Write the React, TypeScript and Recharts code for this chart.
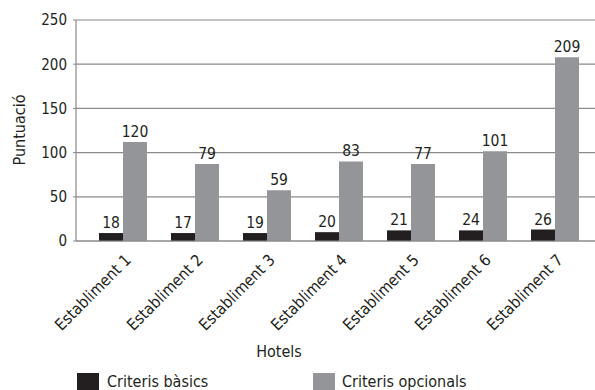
import React from 'react';
import { BarChart, Bar, XAxis, YAxis, CartesianGrid, LabelList, Legend } from 'recharts';

const categories = ['Establiment 1', 'Establiment 2', 'Establiment 3', 'Establiment 4', 'Establiment 5', 'Establiment 6', 'Establiment 7'];
// bar heights as drawn in the picture
const basicBars = [9, 9, 9, 10, 12, 12, 13];
const optionalBars = [112, 87, 57.5, 90, 87, 101.5, 208];
// values printed above the bars
const basicLabels = [18, 17, 19, 20, 21, 24, 26];
const optionalLabels = [120, 79, 59, 83, 77, 101, 209];
const yTicks = [0, 50, 100, 150, 200, 250];

const seriesNames = ['Criteris bàsics', 'Criteris opcionals'];
const BLACK = '#231f20';
const GRAY = '#939598';
const GRID = '#8a8a8a';
const FONT = '"DejaVu Sans Condensed", "DejaVu Sans", sans-serif';

const data = categories.map((c, i) => ({
  name: c,
  basic: basicBars[i],
  optional: optionalBars[i],
  basicLabel: basicLabels[i],
  optionalLabel: optionalLabels[i],
}));

const XTick = (props: any) => {
  const { x, y, payload } = props;
  return (
    <g transform={`translate(${x + 9},${y + 12})`}>
      <text x={0} y={0} textAnchor="end" transform="rotate(-45)" fill={BLACK} fontSize={16} fontFamily={FONT}>
        {payload.value}
      </text>
    </g>
  );
};

const LegendContent = () => (
  <div style={{ position: 'relative', width: 595, height: 20, fontFamily: FONT, fontSize: 16, color: BLACK }}>
    <div style={{ position: 'absolute', left: 77, top: 3, width: 22, height: 17, background: BLACK }} />
    <div style={{ position: 'absolute', left: 107, top: 2, lineHeight: '20px', whiteSpace: 'nowrap' }}>{seriesNames[0]}</div>
    <div style={{ position: 'absolute', left: 313, top: 3, width: 22, height: 17, background: GRAY }} />
    <div style={{ position: 'absolute', left: 342, top: 2, lineHeight: '20px', whiteSpace: 'nowrap' }}>{seriesNames[1]}</div>
  </div>
);

export default function App() {
  return (
    <div style={{ position: 'absolute', left: 0, top: 0, width: 595, height: 390, background: '#fff' }}>
      <BarChart
        width={595}
        height={390}
        data={data}
        margin={{ top: 20, right: 0, left: 0, bottom: 0 }}
        barGap={0}
        barSize={24}
      >
        <CartesianGrid horizontal vertical={false} stroke={GRID} strokeWidth={1.2} />
        <XAxis
          dataKey="name"
          height={149}
          interval={0}
          padding={{ left: 11, right: 4 }}
          axisLine={{ stroke: GRID, strokeWidth: 1.2 }}
          tickLine={false}
          tick={<XTick />}
          label={{
            content: () => (
              <text x={279} y={356.5} textAnchor="middle" fill={BLACK} fontSize={16} fontFamily={FONT}>Hotels</text>
            ),
          }}
        />
        <YAxis
          width={76}
          domain={[0, 250]}
          ticks={yTicks}
          interval={0}
          axisLine={{ stroke: GRID, strokeWidth: 1.2 }}
          tickLine={{ stroke: GRID }}
          tickSize={3}
          tickMargin={6}
          tick={{ fill: BLACK, fontSize: 15, fontFamily: FONT }}
          label={{
            content: () => (
              <text transform="translate(25,130) rotate(-90)" textAnchor="middle" fill={BLACK} fontSize={16} fontFamily={FONT}>Puntuació</text>
            ),
          }}
        />
        <Legend layout="horizontal" verticalAlign="middle" align="center" content={<LegendContent />} wrapperStyle={{ position: 'absolute', top: 370, left: 0, width: 595, height: 20 }} />
        <Bar dataKey="basic" name={seriesNames[0]} fill={BLACK} isAnimationActive={false}>
          <LabelList dataKey="basicLabel" position="top" offset={5} fill={BLACK} fontSize={15.5} fontFamily={FONT} />
        </Bar>
        <Bar dataKey="optional" name={seriesNames[1]} fill={GRAY} isAnimationActive={false}>
          <LabelList dataKey="optionalLabel" position="top" offset={5} fill={BLACK} fontSize={15.5} fontFamily={FONT} />
        </Bar>
      </BarChart>
    </div>
  );
}
